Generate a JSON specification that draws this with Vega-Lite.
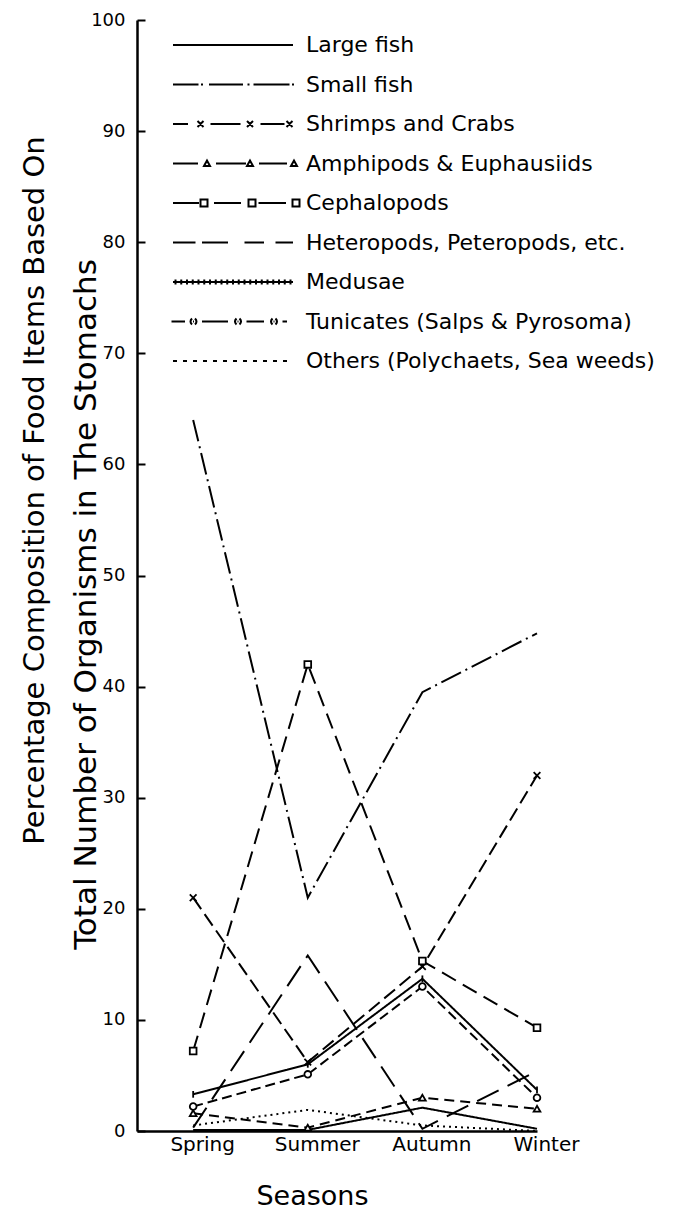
{
  "$schema": "https://vega.github.io/schema/vega-lite/v6.json",
  "width": 400,
  "height": 1111,
  "autosize": {"type": "none"},
  "padding": {"left": 137, "top": 20, "right": 148, "bottom": 79},
  "background": "white",
  "config": {
    "view": {"stroke": null},
    "font": "DejaVu Sans",
    "axis": {"labelColor": "black", "titleColor": "black", "domainColor": "black", "tickColor": "black", "grid": false}
  },
  "title": {
    "text": "Percentage Composition of Food Items Based On",
    "orient": "left",
    "anchor": "middle",
    "frame": "group",
    "offset": 20,
    "dx": 85,
    "font": "DejaVu Sans",
    "fontSize": 29,
    "fontWeight": "normal",
    "color": "black"
  },
  "data": {
    "values": [
      {"series": "Large fish", "season": "Spring", "value": 0.1},
      {"series": "Large fish", "season": "Summer", "value": 0.1},
      {"series": "Large fish", "season": "Autumn", "value": 2.1},
      {"series": "Large fish", "season": "Winter", "value": 0.2},
      {"series": "Small fish", "season": "Spring", "value": 64},
      {"series": "Small fish", "season": "Summer", "value": 21},
      {"series": "Small fish", "season": "Autumn", "value": 39.5},
      {"series": "Small fish", "season": "Winter", "value": 44.8},
      {"series": "Shrimps and Crabs", "season": "Spring", "value": 21},
      {"series": "Shrimps and Crabs", "season": "Summer", "value": 6.2},
      {"series": "Shrimps and Crabs", "season": "Autumn", "value": 14.8},
      {"series": "Shrimps and Crabs", "season": "Winter", "value": 32},
      {"series": "Amphipods & Euphausiids", "season": "Spring", "value": 1.6},
      {"series": "Amphipods & Euphausiids", "season": "Summer", "value": 0.3},
      {"series": "Amphipods & Euphausiids", "season": "Autumn", "value": 3.0},
      {"series": "Amphipods & Euphausiids", "season": "Winter", "value": 2.0},
      {"series": "Cephalopods", "season": "Spring", "value": 7.2},
      {"series": "Cephalopods", "season": "Summer", "value": 42},
      {"series": "Cephalopods", "season": "Autumn", "value": 15.3},
      {"series": "Cephalopods", "season": "Winter", "value": 9.3},
      {"series": "Heteropods, Peteropods, etc.", "season": "Spring", "value": 0.3},
      {"series": "Heteropods, Peteropods, etc.", "season": "Summer", "value": 15.8},
      {"series": "Heteropods, Peteropods, etc.", "season": "Autumn", "value": 0.2},
      {"series": "Heteropods, Peteropods, etc.", "season": "Winter", "value": 5.4},
      {"series": "Medusae", "season": "Spring", "value": 3.3},
      {"series": "Medusae", "season": "Summer", "value": 6.0},
      {"series": "Medusae", "season": "Autumn", "value": 13.7},
      {"series": "Medusae", "season": "Winter", "value": 3.7},
      {"series": "Tunicates (Salps & Pyrosoma)", "season": "Spring", "value": 2.2},
      {"series": "Tunicates (Salps & Pyrosoma)", "season": "Summer", "value": 5.1},
      {"series": "Tunicates (Salps & Pyrosoma)", "season": "Autumn", "value": 13.0},
      {"series": "Tunicates (Salps & Pyrosoma)", "season": "Winter", "value": 3.0},
      {"series": "Others (Polychaets, Sea weeds)", "season": "Spring", "value": 0.5},
      {"series": "Others (Polychaets, Sea weeds)", "season": "Summer", "value": 1.9},
      {"series": "Others (Polychaets, Sea weeds)", "season": "Autumn", "value": 0.5},
      {"series": "Others (Polychaets, Sea weeds)", "season": "Winter", "value": 0.0}
    ]
  },
  "encoding": {
    "x": {
      "field": "season", "type": "ordinal",
      "sort": ["Spring", "Summer", "Autumn", "Winter"],
      "scale": {"type": "point", "padding": 0.245, "align": 1},
      "axis": {
        "title": "Seasons", "titleFont": "DejaVu Sans", "titleFontSize": 27, "titleFontWeight": "normal",
        "titleX": 175, "titleY": 73, "titleBaseline": "alphabetic", "titleAlign": "center",
        "labelAngle": 0, "labelFont": "DejaVu Sans", "labelFontSize": 20, "labelOffset": 9, "labelPadding": 3,
        "ticks": false, "domainWidth": 2.5
      }
    },
    "y": {
      "field": "value", "type": "quantitative",
      "scale": {"domain": [0, 100], "nice": false},
      "axis": {
        "title": "Total Number of Organisms in The Stomachs", "titleFont": "DejaVu Sans", "titleFontSize": 31, "titleFontWeight": "normal",
        "titleX": -51, "titleY": 584, "titleBaseline": "middle", "titleAlign": "center",
        "values": [0, 10, 20, 30, 40, 50, 60, 70, 80, 90, 100],
        "tickSize": -8, "tickWidth": 2, "domainWidth": 2.5,
        "labelFont": "DejaVu Sans", "labelFontSize": 18, "labelPadding": 20
      }
    }
  },
  "layer": [
    {
      "mark": {"type": "line", "strokeWidth": 2, "color": "black"},
      "encoding": {
        "strokeDash": {
          "field": "series", "type": "nominal",
          "scale": {
            "domain": ["Others (Polychaets, Sea weeds)", "Tunicates (Salps & Pyrosoma)", "Medusae", "Heteropods, Peteropods, etc.", "Cephalopods", "Amphipods & Euphausiids", "Shrimps and Crabs", "Small fish", "Large fish"],
            "range": [[2, 4], [10, 5], [1, 0], [24, 10], [16, 8], [10, 6], [14, 6], [22, 5, 2, 5], [1, 0]]
          },
          "legend": null
        }
      }
    },
    {
      "transform": [{"filter": {"field": "series", "oneOf": ["Shrimps and Crabs", "Amphipods & Euphausiids", "Cephalopods", "Medusae", "Tunicates (Salps & Pyrosoma)"]}}],
      "mark": {"type": "point", "filled": true, "fill": "white", "stroke": "black", "strokeWidth": 1.8, "size": 45, "opacity": 1},
      "encoding": {
        "shape": {
          "field": "series", "type": "nominal",
          "scale": {
            "domain": ["Shrimps and Crabs", "Amphipods & Euphausiids", "Cephalopods", "Medusae", "Tunicates (Salps & Pyrosoma)"],
            "range": ["M-1,-1L1,1M-1,1L1,-1", "triangle-up", "square", "M0,-1V1", "circle"]
          },
          "legend": null
        }
      }
    },
    {
      "transform": [{"filter": "false"}],
      "mark": {"type": "line", "strokeWidth": 2},
      "encoding": {
        "color": {
          "field": "series", "type": "nominal",
          "scale": {
            "domain": ["Large fish", "Small fish", "Shrimps and Crabs", "Amphipods & Euphausiids", "Cephalopods", "Heteropods, Peteropods, etc.", "Medusae", "Tunicates (Salps & Pyrosoma)", "Others (Polychaets, Sea weeds)"],
            "range": ["black", "black", "black", "black", "black", "black", "black", "black", "black"]
          },
          "legend": {
            "orient": "none", "legendX": 85, "legendY": 14, "title": null, "padding": 0,
            "symbolSize": 100, "symbolStrokeWidth": 2, "symbolStrokeColor": "black", "symbolFillColor": "transparent", "symbolOpacity": 1,
            "labelFont": "DejaVu Sans", "labelFontSize": 22, "labelColor": "black", "labelOffset": 62, "labelLimit": 0,
            "rowPadding": 17.5,
            "encode": {
              "symbols": {
                "update": {
                  "shape": {"signal": "['M-12,0H12','M-12,0H-6.9M-6.4,0H-6M-4.8,0H2M2.9,0H3.3M4.1,0H11.3M11.8,0H12.2','M-12,0H-9M-7.1,-0.6L-5.9,0.6M-7.1,0.6L-5.9,-0.6M-4.5,0H1.5M2.8,-0.6L4,0.6M2.8,0.6L4,-0.6M5.5,0H10.3M10.7,-0.6L11.9,0.6M10.7,0.6L11.9,-0.6','M-12,0H-7M-5.8,0.5L-5.2,-0.6L-4.6,0.5ZM-3.4,0H2.6M2.8,0.5L3.4,-0.6L4,0.5ZM5.2,0H10.8M11.6,0.5L12.2,-0.6L12.8,0.5Z','M-12,0H-6.8M-6.5,-0.7H-5.1V0.7H-6.5ZM-3.8,0H1.6M3.1,-0.7H4.5V0.7H3.1ZM5.1,0H10.6M11.9,-0.7H13.3V0.7H11.9Z','M-12,0H-7.5M-6.2,0H-1M2.3,0H6.2M8.5,0H12','M-12,0H12M-11.5,-0.5V0.5M-10.35,-0.5V0.5M-9.2,-0.5V0.5M-8.05,-0.5V0.5M-6.9,-0.5V0.5M-5.75,-0.5V0.5M-4.6,-0.5V0.5M-3.45,-0.5V0.5M-2.3,-0.5V0.5M-1.15,-0.5V0.5M0,-0.5V0.5M1.15,-0.5V0.5M2.3,-0.5V0.5M3.45,-0.5V0.5M4.6,-0.5V0.5M5.75,-0.5V0.5M6.9,-0.5V0.5M8.05,-0.5V0.5M9.2,-0.5V0.5M10.35,-0.5V0.5M11.5,-0.5V0.5','M-12.3,0H-9.6M-8.2,-0.6Q-8.8,0 -8.2,0.6M-7.6,-0.6Q-7,0 -7.6,0.6M-8,0H-7.8M-6.2,0H-1M0.7,-0.6Q0.1,0 0.7,0.6M1.3,-0.6Q1.9,0 1.3,0.6M0.9,0H1.1M2.7,0H6.2M7.9,-0.6Q7.3,0 7.9,0.6M8.5,-0.6Q9.1,0 8.5,0.6M8.1,0H8.3M9.9,0H10.8','M-12,0H-11.2M-10,0H-9.2M-8,0H-7.2M-6,0H-5.2M-4,0H-3.2M-2,0H-1.2M0,0H0.8M2,0H2.8M4,0H4.8M6,0H6.8M8,0H8.8M10,0H10.8'][datum.index]"}
                }
              }
            }
          }
        }
      }
    }
  ]
}
